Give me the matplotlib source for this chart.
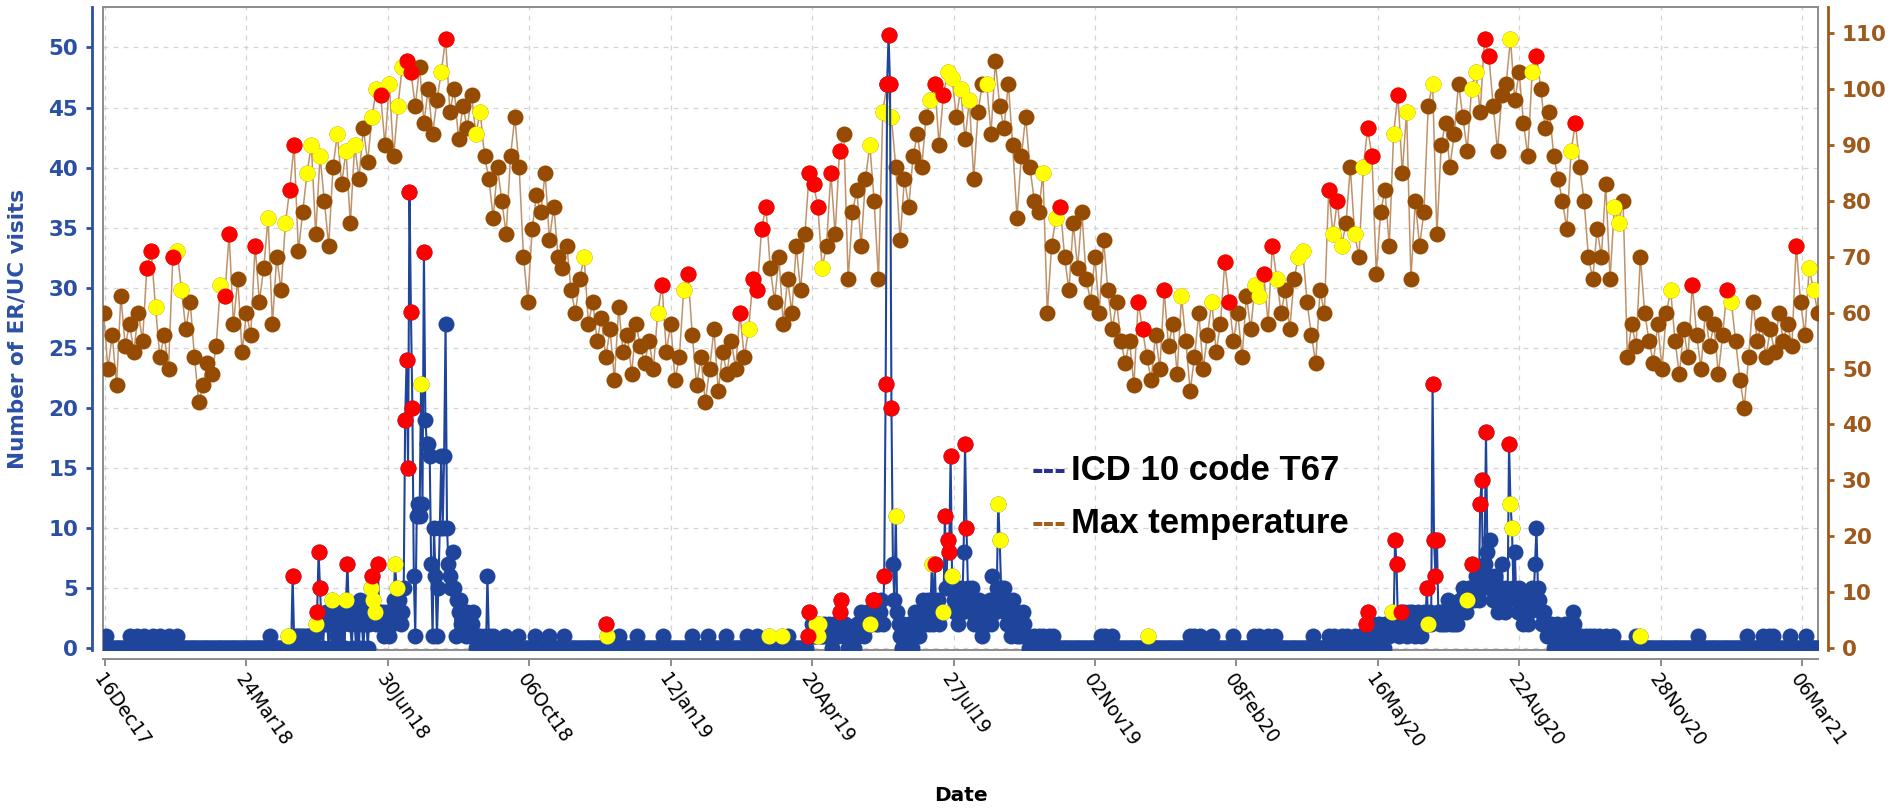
import numpy as np
import pandas as pd
import matplotlib
matplotlib.use('Agg')
import matplotlib.pyplot as plt
import matplotlib.dates as mdates

# ---- values ----
# max temperature (F), one reading every third day from 15 Dec 2017
temp_start = '2017-12-15'
max_temp = [
    60, 50, 56, 47, 63, 54,
    58, 53, 60, 55, 68, 71, 61, 52, 56, 50,
    70, 71, 64, 57, 62, 52, 44, 47, 51, 49,
    54, 65, 63, 74, 58, 66, 53, 60, 56, 72,
    62, 68, 77, 58, 70, 64, 76, 82, 90, 71,
    78, 85, 90, 74, 88, 80, 72, 86, 92, 83,
    89, 76, 90, 84, 93, 87, 95, 100, 99, 90,
    101, 88, 97, 104, 105, 103, 97, 104, 94, 100,
    92, 98, 103, 109, 96, 100, 91, 97, 93, 99,
    92, 96, 88, 84, 77, 86, 80, 74, 88, 95,
    86, 70, 62, 75, 81, 78, 85, 73, 79, 70,
    68, 72, 64, 60, 66, 70, 58, 62, 55, 59,
    52, 57, 48, 61, 53, 56, 49, 58, 54, 51,
    55, 50, 60, 65, 53, 58, 48, 52, 64, 67,
    56, 47, 52, 44, 50, 57, 46, 53, 49, 55,
    50, 60, 52, 57, 66, 64, 75, 79, 68, 62,
    70, 58, 66, 60, 72, 64, 74, 85, 83, 79,
    68, 72, 85, 74, 89, 92, 66, 78, 82, 72,
    84, 90, 80, 66, 96, 101, 95, 86, 73, 84,
    79, 88, 92, 86, 95, 98, 101, 90, 99, 103,
    102, 95, 100, 91, 98, 84, 96, 101, 101, 92,
    105, 97, 93, 101, 90, 77, 88, 95, 86, 80,
    78, 85, 60, 72, 77, 79, 70, 64, 76, 68,
    78, 66, 62, 70, 60, 73, 64, 57, 62, 55,
    51, 55, 47, 62, 57, 52, 48, 56, 50, 64,
    54, 58, 49, 63, 55, 46, 52, 60, 50, 56,
    62, 53, 58, 69, 62, 55, 60, 52, 63, 57,
    65, 63, 67, 58, 72, 66, 60, 64, 57, 66,
    70, 71, 62, 56, 51, 64, 60, 82, 74, 80,
    72, 76, 86, 74, 70, 86, 93, 88, 67, 78,
    82, 72, 92, 99, 85, 96, 66, 80, 72, 78,
    97, 101, 74, 90, 94, 86, 92, 101, 95, 89,
    100, 103, 96, 109, 106, 97, 89, 99, 101, 109,
    98, 103, 94, 88, 103, 106, 100, 93, 96, 88,
    84, 80, 75, 89, 94, 86, 80, 70, 66, 75,
    70, 83, 66, 79, 76, 80, 52, 58, 54, 70,
    60, 55, 51, 58, 50, 60, 64, 55, 49, 57,
    52, 65, 56, 50, 60, 54, 58, 49, 56, 64,
    62, 55, 48, 43, 52, 62, 55, 58, 52, 57,
    53, 60, 55, 58, 54, 72, 62, 56, 68, 64, 60,
]
# heat flag of each reading: r = red, y = yellow, . = none
temp_flag = (
    "......"
    "....rry..." "ryy......." ".yrr.....r" "..y...yrr." ".yy.y...y."
    "y.y...yyr." "y.yyrr...." "..yr......" "yy........" ".........."
    ".....y...." ".........." "..yr....yr" ".........." ".r.yrrrr.."
    ".......rrr" "y.r.r....." ".y..yry..." ".....yr.ry" "y.y.y...y."
    ".........." ".y..yr...." ".........." "...rr....r" "...y......"
    "y..rr....." "yyr.ry...." "yy.....ryr" "y..y.yrr.." "..yr.y...."
    ".y........" "yy.rr....y" "....yr...." "...yr....." "...yy....."
    "......y..." ".r.......r" "y........."
    ".....r..yy."
)

# daily ER/UC visits, summer 2018
season18_start = '2018-04-22'
season18_visits = [
    1, 0, 0, 6, 1, 0, 1, 1, 0, 1, 1, 0, 1, 0, 1, 1, 0, 1, 1, 2,
    3, 8, 5, 2, 0, 2, 3, 2, 0, 2, 4, 2, 0, 3, 1, 2, 0, 3, 2, 0,
    4, 7, 3, 2, 0, 3, 2, 0, 2, 0, 4, 2, 0, 2, 3, 0, 2, 5, 6, 4,
    3, 2, 7, 3, 2, 3, 1, 2, 3, 2, 1, 3, 2, 4, 7, 5, 3, 4, 2, 3,
    5, 19, 24, 15, 38, 28, 20, 6, 1, 11, 12, 11, 22, 12, 33, 19, 17, 17, 16, 7,
    1, 10, 6, 1, 5, 10, 16, 10, 16, 27, 10, 7, 6, 5, 8, 5, 1, 4, 3, 4,
    2, 3, 2, 1, 3, 2, 1, 2, 3, 1, 0, 1, 0, 1, 0, 0, 1, 0, 6, 1,
]
season18_flag = (
    "y..r...............y" "rrr.......y........." "yr...............yry"
    "y.r...........yy...." ".rrrrrr.....y.r....." "...................."
    "...................."
)

# daily ER/UC visits, summer 2019
season19_start = '2019-04-17'
season19_visits = [
    1, 3, 1, 2, 1, 1, 2, 1, 2, 1, 1, 2, 1, 1, 1, 2, 1, 0, 2, 1,
    2, 1, 3, 4, 2, 1, 2, 1, 0, 1, 0, 1, 0, 1, 2, 1, 2, 3, 2, 1,
    2, 3, 2, 2, 2, 4, 4, 2, 3, 2, 3, 4, 2, 6, 22, 47, 51, 47, 20, 7,
    4, 11, 3, 2, 1, 0, 2, 1, 0, 1, 2, 1, 0, 2, 3, 1, 2, 1, 3, 2,
    4, 2, 3, 4, 2, 3, 7, 2, 7, 3, 4, 2, 3, 3, 3, 11, 5, 9, 8, 16,
    6, 4, 3, 5, 2, 4, 5, 3, 8, 17, 10, 5, 4, 3, 5, 2, 3, 2, 3, 4,
    2, 1, 3, 2, 2, 3, 4, 2, 6, 4, 3, 5, 12, 9, 5, 4, 5, 3, 2, 3,
    2, 1, 4, 2, 3, 1, 2, 1, 2, 3, 2, 1, 1,
]
season19_flag = (
    "rr....yyy..........." "..rr................" "...y.rr......rrrrrr."
    ".y.................." "......y.r.....yr.rrr" "y........rr........."
    "............yy......" "............."
)

# daily ER/UC visits, summer 2020
season20_start = '2020-05-07'
season20_visits = [
    1, 2, 3, 1, 0, 1, 2, 1, 0, 1, 2, 1, 1, 0, 2, 1, 2, 1, 2, 3,
    2, 9, 7, 2, 1, 3, 2, 3, 2, 1, 2, 3, 2, 3, 2, 1, 2, 3, 2, 1,
    2, 3, 2, 5, 2, 3, 2, 22, 9, 6, 9, 3, 2, 3, 2, 3, 2, 3, 4, 3,
    2, 3, 2, 3, 2, 3, 4, 3, 5, 4, 3, 4, 5, 4, 7, 5, 4, 6, 5, 4,
    12, 14, 5, 7, 18, 8, 6, 9, 5, 4, 6, 5, 3, 4, 5, 7, 4, 3, 5, 4,
    17, 12, 10, 5, 8, 4, 3, 5, 4, 3, 2, 4, 3, 2, 3, 4, 5, 4, 7, 10,
    5, 4, 3, 2, 3, 2, 1, 2, 1, 2, 1, 0, 1, 2, 1, 0, 1, 0, 1, 2,
    1, 0, 2, 2, 3, 2, 1, 0, 1, 0, 1, 0, 0, 1, 0, 0, 1, 0, 0, 1,
    0, 0, 1,
]
season20_flag = (
    ".rr................y" ".rr..r.............." "...ry..rrrr........."
    "...........y..r....." "rr..r..............." "ryy................."
    "...................." "...................." "..."
)

# days with a single visit outside the summer runs
single_visit_dates = [
    '2017-12-17', '2018-01-02', '2018-01-07', '2018-01-12', '2018-01-18',
    '2018-01-23', '2018-01-29', '2018-02-04', '2018-04-09', '2018-09-11',
    '2018-09-19', '2018-09-28', '2018-10-10', '2018-10-20', '2018-10-30',
    '2018-12-07', '2018-12-20', '2019-01-07', '2019-01-27', '2019-02-07',
    '2019-02-19', '2019-03-06', '2019-03-13', '2019-04-03', '2019-09-21',
    '2019-09-24', '2019-09-27', '2019-10-01', '2019-10-04', '2019-11-06',
    '2019-11-09', '2019-11-14', '2020-01-07', '2020-01-10', '2020-01-14',
    '2020-01-22', '2020-02-06', '2020-02-20', '2020-02-24', '2020-03-01',
    '2020-03-06', '2020-04-01', '2020-04-12', '2020-04-16', '2020-04-21',
    '2020-04-25', '2020-04-30', '2020-05-04', '2020-10-21', '2020-10-26',
    '2020-11-11', '2020-12-24', '2021-01-27', '2021-02-07', '2021-02-11',
    '2021-02-14', '2021-02-26', '2021-03-09',
]
# other flagged days outside the summer runs
flagged_dates = ['2018-11-28', '2018-11-29', '2019-03-21', '2019-03-30',
                 '2019-12-09', '2020-11-14']
flagged_visits = [2, 1, 1, 1, 1, 1]
flagged_flag = "ryyyyy"

tick_dates = pd.date_range('2017-12-16', periods=13, freq='98D')

# ---- build the series ----
days = pd.date_range('2017-12-15', '2021-03-17', freq='D')
visits = pd.Series(0, index=days)
vflag = pd.Series('.', index=days)
for start, counts, flags in [(season18_start, season18_visits, season18_flag),
                             (season19_start, season19_visits, season19_flag),
                             (season20_start, season20_visits, season20_flag)]:
    idx = pd.date_range(start, periods=len(counts), freq='D')
    visits.loc[idx] = counts
    vflag.loc[idx] = list(flags)
visits.loc[pd.to_datetime(single_visit_dates)] = 1
fd = pd.to_datetime(flagged_dates)
visits.loc[fd] = flagged_visits
vflag.loc[fd] = list(flagged_flag)

tdates = pd.date_range(temp_start, periods=len(max_temp), freq='3D')
temps = np.array(max_temp)
tflag = np.array(list(temp_flag))

# ---- styles ----
BLUE = '#1E449B'
BLUE_AX = '#2B4FA3'
BROWN = '#954C02'
TAN = '#BE926A'
BROWN_AX = '#9E5A1C'
FLAG_COL = {'y': '#FFFF00', 'r': '#FF0000'}
MS = 11.5

W, H = 1891, 809
fig = plt.figure(figsize=(W / 100, H / 100), dpi=100)
rect = [103 / W, 1 - 650 / H, (1818 - 103) / W, (650 - 7) / H]

base = mdates.date2num(pd.Timestamp('2017-12-16'))
xlim = (base - 1.4, base + 1187.1)
ylim_l = (-0.17, 53.37)
ylim_r = (-0.36, 114.7)

# background axes: grid + grey frame
gax = fig.add_axes(rect, zorder=0)
gax.set_xlim(xlim)
gax.set_ylim(ylim_l)
gax.set_xticks(mdates.date2num(tick_dates))
gax.set_yticks(range(0, 55, 5))
gax.grid(True, color='#D4D4D4', linestyle=(0, (4, 4)), linewidth=0.9)
gax.tick_params(length=0, labelbottom=False, labelleft=False)
for s in gax.spines.values():
    s.set_color('#8C8C8C')
    s.set_linewidth(1.4)

# temperature (right axis)
ax2 = fig.add_axes(rect, zorder=1)
ax2.patch.set_visible(False)
ax2.plot(tdates, temps, color=TAN, lw=1.1, marker='o', ms=MS,
         mfc=BROWN, mec=BROWN, mew=0)
for f in ['y', 'r']:
    m = tflag == f
    ax2.plot(tdates[m], temps[m], 'o', ms=MS, color=FLAG_COL[f], mew=0)
ax2.set_xlim(xlim)
ax2.set_ylim(ylim_r)
ax2.yaxis.tick_right()
ax2.set_yticks(range(0, 111, 10))
ax2.set_xticks([])
for k in ['left', 'top', 'bottom']:
    ax2.spines[k].set_visible(False)
ax2.spines['right'].set_position(('outward', 7.2))
ax2.spines['right'].set_color(BROWN_AX)
ax2.spines['right'].set_linewidth(2)
ax2.tick_params(axis='y', colors=BROWN_AX, labelsize=15.5, length=4,
                width=2, pad=6)
for lbl in ax2.get_yticklabels():
    lbl.set_fontweight('bold')

# visits (left axis), drawn on top
ax = fig.add_axes(rect, zorder=2)
ax.patch.set_visible(False)
ax.plot(visits.index, visits.values, color=BLUE, lw=1.5, marker='o', ms=MS,
        mfc=BLUE, mec=BLUE, mew=0)
vf = vflag.values
for f in ['y', 'r']:
    m = vf == f
    ax.plot(visits.index[m], visits.values[m], 'o', ms=MS, color=FLAG_COL[f],
            mew=0)
ax.set_xlim(xlim)
ax.set_ylim(ylim_l)
ax.set_yticks(range(0, 55, 5))
ax.set_xticks(mdates.date2num(tick_dates))
ax.xaxis.set_major_formatter(mdates.DateFormatter('%d%b%y'))
for k in ['right', 'top']:
    ax.spines[k].set_visible(False)
ax.spines['left'].set_position(('outward', 7.9))
ax.spines['left'].set_color(BLUE_AX)
ax.spines['left'].set_linewidth(2)
ax.spines['bottom'].set_position(('outward', 6.8))
ax.spines['bottom'].set_color('#8C8C8C')
ax.spines['bottom'].set_linewidth(1.4)
ax.tick_params(axis='y', colors=BLUE_AX, labelsize=15.5, length=4, width=2,
               pad=6)
ax.tick_params(axis='x', colors='#8C8C8C', labelcolor='black', labelsize=13.5,
               length=5, width=1.4, pad=3)
for lbl in ax.get_yticklabels():
    lbl.set_fontweight('bold')
plt.setp(ax.get_xticklabels(), rotation=-55, ha='left', va='top',
         rotation_mode='anchor')

ax.set_ylabel('Number of ER/UC visits', color=BLUE_AX, fontsize=15.5,
              fontweight='bold')
ax.yaxis.set_label_coords(-0.0443, 0.5)
ax.set_xlabel('Date', fontsize=14.5, fontweight='bold')
ax.xaxis.set_label_coords(0.5, -0.211)

# legend drawn as text, like the original
leg_font = dict(family='Liberation Sans', fontsize=25, fontweight='bold',
                va='baseline')
fig.text(1032 / W, 1 - 480 / H, '---', color='#29318F', **leg_font)
fig.text(1071 / W, 1 - 480 / H, 'ICD 10 code T67', color='black', **leg_font)
fig.text(1032 / W, 1 - 533 / H, '---', color='#A0601A', **leg_font)
fig.text(1071 / W, 1 - 533 / H, 'Max temperature', color='black', **leg_font)

fig.savefig('out.png', dpi=100)
